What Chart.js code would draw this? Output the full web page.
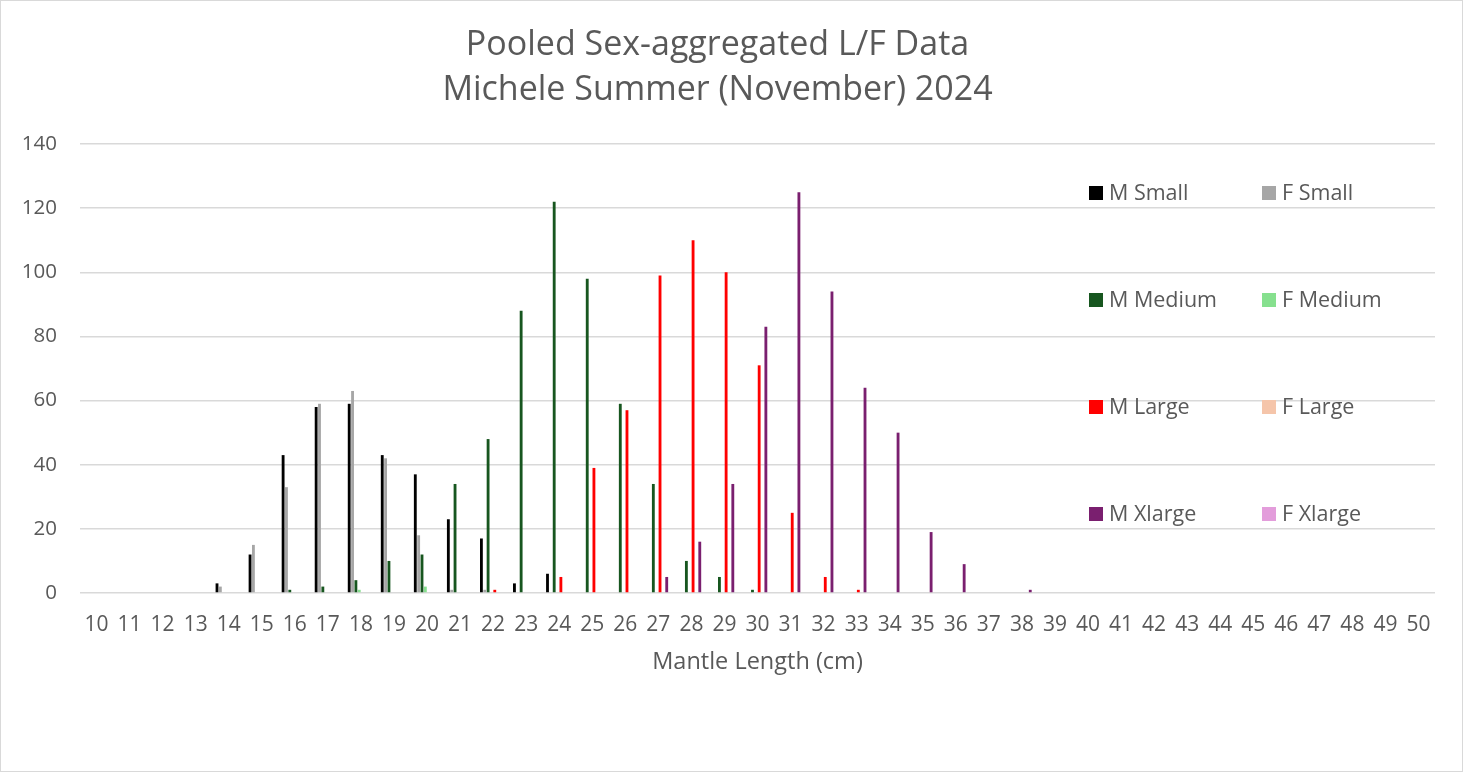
<!DOCTYPE html>
<html>
<head>
<meta charset="utf-8">
<script src="https://cdn.jsdelivr.net/npm/chart.js@4.4.1/dist/chart.umd.min.js"></script>
<style>
    html, body { margin: 0; padding: 0; background: #ffffff; }
    #wrap { width: 1463px; height: 772px; position: relative; }
</style>
</head>
<body>
<div id="wrap"><canvas id="lfChart"></canvas></div>
<script>
// mantle length classes (cm)
const lengths = ["10","11","12","13","14","15","16","17","18","19","20","21","22","23","24","25","26","27","28","29",
    "30","31","32","33","34","35","36","37","38","39","40","41","42","43","44","45","46","47","48","49","50"];

// counts per length class, 10..19 | 20..29 | 30..39 | 40..49 | 50
const mSmall  = [0,0,0,0,3,12,43,58,59,43,  37,23,17,3,6,0,0,0,0,0,        0,0,0,0,0,0,0,0,0,0,     0,0,0,0,0,0,0,0,0,0, 0];
const fSmall  = [0,0,0,0,2,15,33,59,63,42,  18,1,1,0,0,0,0,0,0,0,          0,0,0,0,0,0,0,0,0,0,     0,0,0,0,0,0,0,0,0,0, 0];
const mMedium = [0,0,0,0,0,0,1,2,4,10,      12,34,48,88,122,98,59,34,10,5, 1,0,0,0,0,0,0,0,0,0,     0,0,0,0,0,0,0,0,0,0, 0];
const fMedium = [0,0,0,0,0,0,0,0,1,0,       2,0,0,0,0,0,0,0,0,0,           0,0,0,0,0,0,0,0,0,0,     0,0,0,0,0,0,0,0,0,0, 0];
const mLarge  = [0,0,0,0,0,0,0,0,0,0,       0,0,1,0,5,39,57,99,110,100,    71,25,5,1,0,0,0,0,0,0,   0,0,0,0,0,0,0,0,0,0, 0];
const fLarge  = [0,0,0,0,0,0,0,0,0,0,       0,0,0,0,0,0,0,0,0,0,           0,0,0,0,0,0,0,0,0,0,     0,0,0,0,0,0,0,0,0,0, 0];
const mXlarge = [0,0,0,0,0,0,0,0,0,0,       0,0,0,0,0,0,0,5,16,34,         83,125,94,64,50,19,9,0,1,0, 0,0,0,0,0,0,0,0,0,0, 0];
const fXlarge = [0,0,0,0,0,0,0,0,0,0,       0,0,0,0,0,0,0,0,0,0,           0,0,0,0,0,0,0,0,0,0,     0,0,0,0,0,0,0,0,0,0, 0];

const seriesNames = ["M Small", "F Small", "M Medium", "F Medium", "M Large", "F Large", "M Xlarge", "F Xlarge"];
const seriesData = [mSmall, fSmall, mMedium, fMedium, mLarge, fLarge, mXlarge, fXlarge];
const seriesColors = ["#000000", "#a6a6a6", "#17561f", "#86e08e", "#ff0000", "#f5c5aa", "#7a1f6f", "#e39ddb"];

const yTicks = [0, 20, 40, 60, 80, 100, 120, 140];

const FONT = "'Open Sans', 'Noto Sans', sans-serif";
const TEXT = "#595959";

// legend sits inside the plot, two columns x four rows
const legendInPlot = {
    id: "legendInPlot",
    afterDatasetsDraw(chart) {
        const ctx = chart.ctx;
        const colX = [1089, 1262];
        const rowY = [193, 300, 407, 514];
        ctx.save();
        ctx.font = "21.5px " + FONT;
        ctx.textBaseline = "middle";
        ctx.textAlign = "left";
        chart.data.datasets.forEach((ds, i) => {
            const x = colX[i % 2];
            const y = rowY[Math.floor(i / 2)];
            ctx.fillStyle = ds.backgroundColor;
            ctx.fillRect(x, y - 7, 14, 14);
            ctx.fillStyle = TEXT;
            ctx.fillText(ds.label, x + 20, y + 1);
        });
        ctx.restore();
    }
};

const frame = {
    id: "frame",
    afterDraw(chart) {
        const ctx = chart.ctx;
        ctx.save();
        ctx.strokeStyle = "#d9d9d9";
        ctx.lineWidth = 1;
        ctx.strokeRect(0.5, 0.5, chart.width - 1, chart.height - 1);
        ctx.restore();
    }
};

const ctx = document.getElementById("lfChart").getContext("2d");
const lfChart = new Chart(ctx, {
    type: "bar",
    data: {
        labels: lengths,
        datasets: seriesNames.map((name, i) => ({
            label: name,
            data: seriesData[i],
            backgroundColor: seriesColors[i],
            borderWidth: 0,
            categoryPercentage: 0.81,
            barPercentage: 0.85,
        })),
    },
    options: {
        responsive: true,
        maintainAspectRatio: false,
        animation: false,
        layout: {
            padding: { top: 0, right: 28, bottom: 0, left: 0 }
        },
        plugins: {
            legend: { display: false },
            tooltip: { enabled: false },
            title: {
                display: true,
                text: ["Pooled Sex-aggregated L/F Data", "Michele Summer (November) 2024"],
                color: TEXT,
                font: { family: FONT, size: 34, weight: "normal", lineHeight: 1.324 },
                padding: { top: 23, bottom: 31 }
            }
        },
        scales: {
            x: {
                grid: { display: false },
                border: { display: false },
                ticks: {
                    color: TEXT,
                    font: { family: FONT, size: 21 },
                    padding: 11,
                    maxRotation: 0,
                    autoSkip: false
                },
                title: {
                    display: true,
                    text: "Mantle Length (cm)",
                    color: TEXT,
                    font: { family: FONT, size: 23.5 },
                    padding: { top: 0, bottom: 96 }
                },
                afterFit(scale) { scale.height = 179; }
            },
            y: {
                min: 0,
                max: 140,
                afterBuildTicks(scale) { scale.ticks = yTicks.map(v => ({ value: v })); },
                grid: { color: "#d9d9d9", lineWidth: 1.5, drawTicks: false },
                border: { display: false },
                ticks: {
                    color: TEXT,
                    font: { family: FONT, size: 20.5 },
                    padding: 23
                },
                afterFit(scale) { scale.width = 80; }
            }
        }
    },
    plugins: [legendInPlot, frame]
});
</script>
</body>
</html>
